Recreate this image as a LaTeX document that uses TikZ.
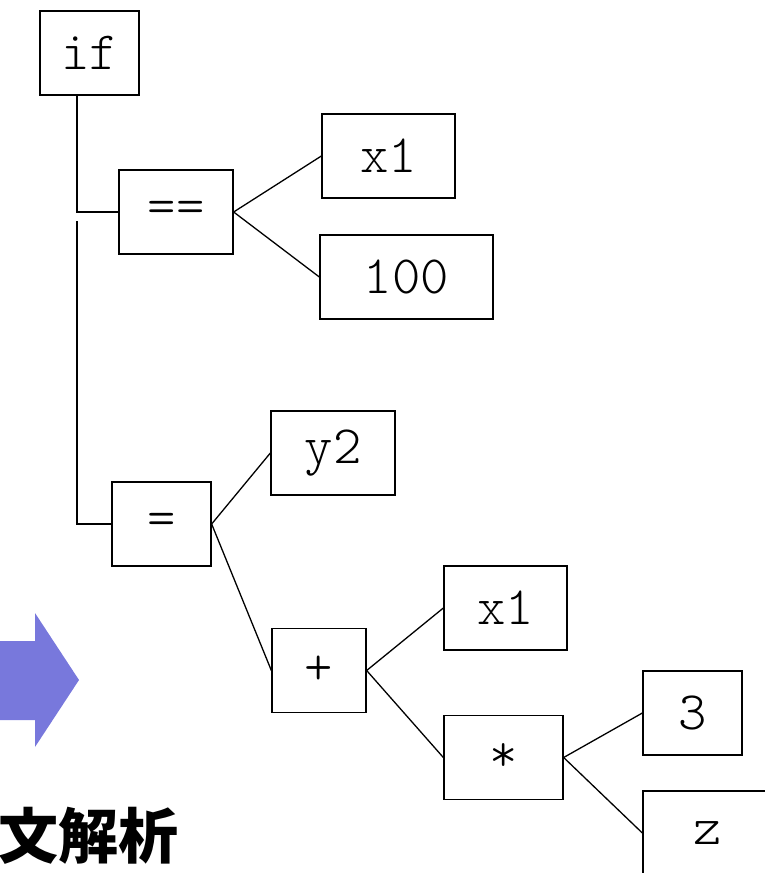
\documentclass[tikz,border=0pt]{standalone}
\usepackage{fontspec}
\newfontfamily\cjk{Noto Sans CJK JP}
\newfontfamily\codefont{Latin Modern Mono Light}
\definecolor{arrowblue}{RGB}{120,120,220}
\tikzset{
tbox/.style={
  draw,line width=1.3pt,minimum height=84pt,inner sep=0pt,
  font=\codefont\fontsize{54}{58}\selectfont}}
\begin{document}
\begin{tikzpicture}[x=1pt,y=-1pt,line width=1.3pt]
\clip (0,0) rectangle (765,873);
\node[tbox,minimum width=99pt] (if) at (89.5,53) {if};
\node[tbox,minimum width=114pt] (eq) at (176,212) {==};
\node[tbox,minimum width=133pt] (xa) at (388.5,156) {x1};
\node[tbox,minimum width=173pt] (hundred) at (406.5,277) {100};
\node[tbox,minimum width=99pt] (assign) at (161.5,524) {=};
\node[tbox,minimum width=124pt] (ytwo) at (333,453) {y2};
\node[tbox,minimum width=94pt] (plus) at (319,670.5) {+};
\node[tbox,minimum width=123pt] (xb) at (505.5,608) {x1};
\node[tbox,minimum width=119pt] (times) at (503.5,757.5) {*};
\node[tbox,minimum width=99pt] (three) at (692.5,713) {3};
\node[tbox,minimum width=130pt] (z) at (708,833) {z};
\coordinate (thenleg) at (77,95);
\coordinate (elseleg) at (77,221);
 % if branches
\draw (thenleg) |- (eq.west);
\draw (elseleg) |- (assign.west);
\draw (eq.east) -- (xa.west);
\draw (eq.east) -- (hundred.west);
\draw (assign.east) -- (ytwo.west);
\draw (assign.east) -- (plus.west);
\draw (plus.east) -- (xb.west);
\draw (plus.east) -- (times.west);
\draw (times.east) -- (three.west);
\draw (times.east) -- (z.west);
 % arrow and caption
\fill[arrowblue] (-20,641) -- (35,641) -- (35,613) -- (79,680) -- (35,747) -- (35,720) -- (-20,720) -- cycle;
\node[anchor=west,inner sep=0pt,font=\cjk\bfseries\fontsize{60}{64}\selectfont] (caption) at (-2,836) {文解析};
\end{tikzpicture}
\end{document}
